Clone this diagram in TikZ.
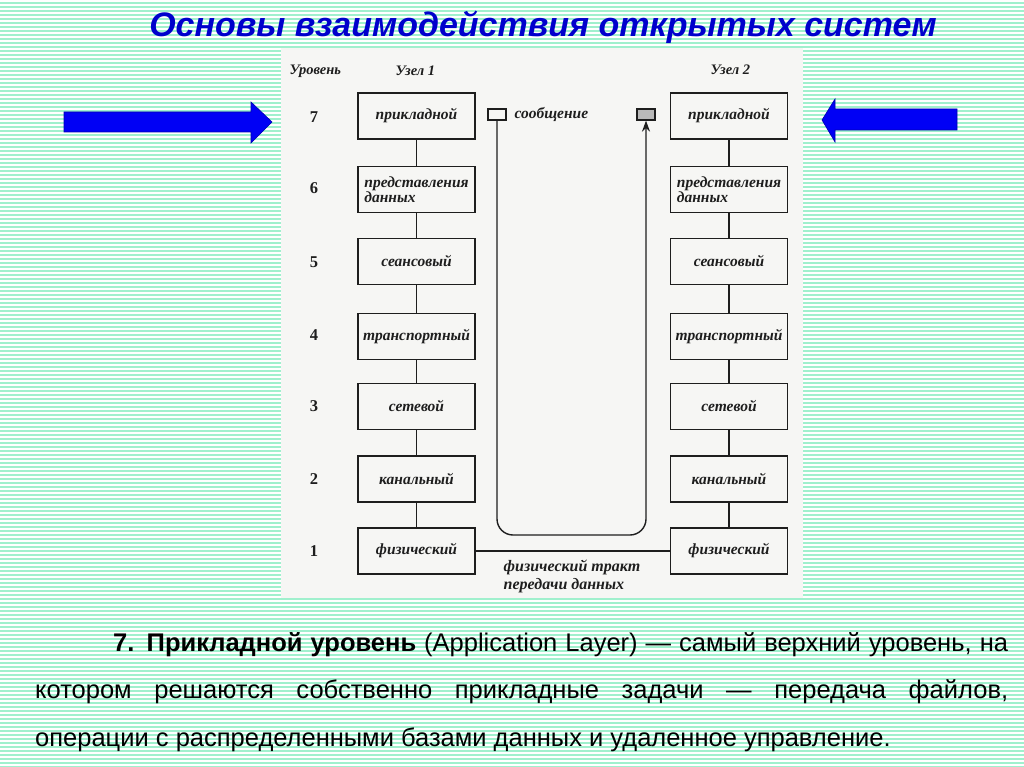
\documentclass[tikz,border=0pt]{standalone}
\usepackage{fontspec}
\setmainfont{Liberation Sans}
\newfontfamily\scanfont{Liberation Serif}
\usetikzlibrary{arrows.meta}
\definecolor{mint}{RGB}{160,240,205}
\definecolor{titleblue}{RGB}{0,0,204}
\definecolor{panelbg}{RGB}{246,246,244}
\definecolor{arrowblue}{RGB}{0,0,245}
\definecolor{ink}{RGB}{30,30,30}
\tikzset{
  lay/.style={draw=ink, line width=1.5pt, minimum width=117, minimum height=46,
    inner sep=3pt, align=left, font=\scanfont\bfseries\itshape\fontsize{15.5}{15}\selectfont, text=ink},
  lvl/.style={font=\scanfont\bfseries\fontsize{16.5}{16}\selectfont, text=ink},
  hdr/.style={font=\scanfont\bfseries\itshape\fontsize{14.5}{15}\selectfont, text=ink, anchor=west},
  conn/.style={draw=ink, line width=1.4pt},
  msgbox/.style={draw=ink, line width=1.3pt, minimum width=18, minimum height=11, inner sep=0pt},
  bigarrow/.style={fill=arrowblue, draw=blue!70!black, line width=0.6pt}
}
\begin{document}
\begin{tikzpicture}[x=1pt,y=-1pt]
\useasboundingbox (0,0) rectangle (1024,767);
% striped background
\fill[mint] (0,0) rectangle (1024,767);
\foreach \k in {0,...,191} \fill[white] (0,4*\k) rectangle (1024,4*\k+1.8);
% title
\node[font=\bfseries\itshape\fontsize{34}{36}\selectfont, text=titleblue] (title) at (543,27) {Основы взаимодействия открытых систем};
% blue arrows
\filldraw[bigarrow] (64,112) -- (251,112) -- (251,102) -- (272,122) -- (251,143) -- (251,132) -- (64,132) -- cycle;
\filldraw[bigarrow] (957,109) -- (835,109) -- (835,99) -- (822,120) -- (835,142) -- (835,130) -- (957,130) -- cycle;
% scanned panel
\fill[panelbg] (281,48) rectangle (803,598);
% headers
\node[hdr] (hlev) at (286,71) {Уровень};
\node[hdr] (hn1) at (392,71) {Узел 1};
\node[hdr] (hn2) at (707,70) {Узел 2};
% level numbers
\node[lvl] (n7) at (314,117) {7};
\node[lvl] (n6) at (314,188) {6};
\node[lvl] (n5) at (314,262) {5};
\node[lvl] (n4) at (314,335) {4};
\node[lvl] (n3) at (314,406) {3};
\node[lvl] (n2) at (314,479) {2};
\node[lvl] (n1) at (314,551) {1};
% left node boxes
\node[lay] (L7) at (416.5,116) {прикладной};
\node[lay] (L6) at (416.5,189.5) {представления\\данных};
\node[lay] (L5) at (416.5,261.5) {сеансовый};
\node[lay] (L4) at (416.5,336.5) {транспортный};
\node[lay] (L3) at (416.5,406.5) {сетевой};
\node[lay] (L2) at (416.5,479) {канальный};
\node[lay] (L1) at (416.5,551) {физический};
% right node boxes
\node[lay] (R7) at (729,116) {прикладной};
\node[lay] (R6) at (729,189.5) {представления\\данных};
\node[lay] (R5) at (729,261.5) {сеансовый};
\node[lay] (R4) at (729,336.5) {транспортный};
\node[lay] (R3) at (729,406.5) {сетевой};
\node[lay] (R2) at (729,479) {канальный};
\node[lay] (R1) at (729,551) {физический};
% vertical connectors
\foreach \a/\b in {7/6,6/5,5/4,4/3,3/2,2/1} {
  \draw[conn] (L\a) -- (L\b);
  \draw[conn] (R\a) -- (R\b);
}
% physical link
\draw[conn] (L1.east) -- (R1.west);
\node[font=\scanfont\bfseries\itshape\fontsize{16}{18}\selectfont, text=ink, align=left] (phys) at (572,576) {физический тракт\\передачи данных};
% message
\node[msgbox] (m1) at (497,114.5) {};
\node[msgbox, fill=gray!55] (m2) at (646,114.5) {};
\node[font=\scanfont\bfseries\itshape\fontsize{15.5}{15}\selectfont, text=ink, anchor=west] (msg) at (511,114) {сообщение};
\coordinate (ub) at (570,535);
\draw[conn, rounded corners=16, -{Stealth[length=11pt,width=8pt]}] (m1.south) |- (ub) -| (m2.south);
% bottom text
\node[anchor=north west, text width=973pt, align=justify, inner sep=0pt,
  font=\fontsize{25.5}{47.5}\selectfont] (body) at (35,632)
  {\hspace*{78pt}\textbf{7. Прикладной уровень} (Application Layer) — самый верхний уровень, на\linebreak котором решаются собственно прикладные задачи — передача файлов,\linebreak операции с распределенными базами данных и удаленное управление.};
\end{tikzpicture}
\end{document}
